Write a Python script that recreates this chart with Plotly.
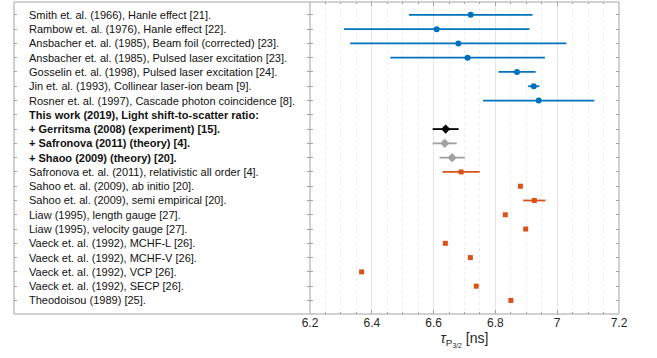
import plotly.graph_objects as go

labels = [
    "Smith et. al. (1966), Hanle effect [21].",
    "Rambow et. al. (1976), Hanle effect [22].",
    "Ansbacher et. al. (1985), Beam foil (corrected) [23].",
    "Ansbacher et. al. (1985), Pulsed laser excitation [23].",
    "Gosselin et. al. (1998), Pulsed laser excitation [24].",
    "Jin et. al. (1993), Collinear laser-ion beam [9].",
    "Rosner et. al. (1997), Cascade photon coincidence [8].",
    "This work (2019), Light shift-to-scatter ratio:",
    "+ Gerritsma (2008) (experiment) [15].",
    "+ Safronova (2011) (theory) [4].",
    "+ Shaoo (2009) (theory) [20].",
    "Safronova et. al. (2011), relativistic all order [4].",
    "Sahoo et. al. (2009), ab initio [20].",
    "Sahoo et. al. (2009), semi empirical [20].",
    "Liaw (1995), length gauge [27].",
    "Liaw (1995), velocity gauge [27].",
    "Vaeck et. al. (1992), MCHF-L [26].",
    "Vaeck et. al. (1992), MCHF-V [26].",
    "Vaeck et. al. (1992), VCP [26].",
    "Vaeck et. al. (1992), SECP [26].",
    "Theodoisou (1989) [25].",
]
bold_rows = [7, 8, 9, 10]

# experiments (blue)
exp_rows = [0, 1, 2, 3, 4, 5, 6]
exp_vals = [6.72, 6.61, 6.68, 6.71, 6.87, 6.924, 6.94]
exp_errs = [0.20, 0.30, 0.35, 0.25, 0.06, 0.018, 0.18]

# this work (black)
tw_rows = [8]
tw_vals = [6.639]
tw_errs = [0.042]

# this work with theory input (gray)
twt_rows = [9, 10]
twt_vals = [6.636, 6.66]
twt_errs = [0.039, 0.041]

# theory (orange)
th_rows = [11, 12, 13, 14, 15, 16, 17, 18, 19, 20]
th_vals = [6.689, 6.881, 6.926, 6.832, 6.898, 6.638, 6.719, 6.367, 6.738, 6.85]
th_errs = [0.06, 0, 0.036, 0, 0, 0, 0, 0, 0, 0]

x_ticks = [6.2, 6.4, 6.6, 6.8, 7.0, 7.2]
x_ticktext = ["6.2", "6.4", "6.6", "6.8", "7", "7.2"]

fig = go.Figure()

def add(rows, vals, errs, color, symbol, size):
    fig.add_trace(go.Scatter(
        x=vals, y=rows, mode="markers", xaxis="x", yaxis="y2",
        marker=dict(color=color, symbol=symbol, size=size),
        error_x=dict(type="data", array=errs, visible=True, color=color,
                     thickness=1.8, width=0),
        showlegend=False, hoverinfo="skip",
    ))

add(exp_rows, exp_vals, exp_errs, "#0072BD", "circle", 6)
add(tw_rows, tw_vals, tw_errs, "#000000", "diamond", 7)
add(twt_rows, twt_vals, twt_errs, "#A0A0A0", "diamond", 7)
add(th_rows, th_vals, th_errs, "#D95319", "square", 5)

split = 296 / 605
line_col = "#a3a3a3"

for i, lab in enumerate(labels):
    txt = f"<b>{lab}</b>" if i in bold_rows else lab
    fig.add_annotation(x=13 / 605, y=i, xref="paper", yref="y", text=txt,
                       showarrow=False, xanchor="left", yanchor="middle",
                       font=dict(family="Liberation Sans, Arial", size=11, color="#111111"))

# panel frames
fig.add_shape(type="rect", xref="paper", yref="paper", x0=0, x1=1, y0=0, y1=1,
              line=dict(color=line_col, width=1), layer="above")
fig.add_shape(type="line", xref="paper", yref="paper", x0=split, x1=split, y0=0, y1=1,
              line=dict(color=line_col, width=1), layer="above")

yr = [20.95, -0.9]
fig.update_layout(
    width=657, height=358,
    margin=dict(l=14, r=38, t=2, b=44),
    plot_bgcolor="white", paper_bgcolor="white",
    showlegend=False,
    font=dict(family="Liberation Sans, Arial", size=12, color="#262626"),
    xaxis=dict(domain=[split, 1], range=[6.2, 7.2], tickvals=x_ticks, ticktext=x_ticktext,
               ticks="inside", ticklen=4, tickcolor=line_col, showline=False,
               mirror="ticks", showgrid=True, gridcolor="#e6e6e6", zeroline=False,
               tickfont=dict(size=12, color="#262626"),
               minor=dict(dtick=0.05, showgrid=True, gridcolor="#ececec", griddash="dot",
                          ticks="inside", ticklen=2, tickcolor=line_col),
               title=dict(text="<i>τ</i><sub>P<sub>3/2</sub></sub> [ns]", standoff=2,
                          font=dict(size=14, color="#262626"))),
    xaxis2=dict(domain=[0, split], range=[0, 1], showticklabels=False, showgrid=False,
                zeroline=False, showline=False, ticks=""),
    yaxis=dict(anchor="x2", range=yr, tickvals=list(range(len(labels))), showticklabels=False,
               ticks="inside", ticklen=3, tickcolor=line_col, showline=False,
               mirror="ticks", showgrid=False, zeroline=False),
    yaxis2=dict(anchor="x", range=yr, matches="y", tickvals=list(range(len(labels))),
                showticklabels=False, ticks="inside", ticklen=3, tickcolor=line_col,
                showline=False, mirror="ticks", showgrid=False, zeroline=False),
)
fig.add_trace(go.Scatter(x=[None], y=[None], xaxis="x2", yaxis="y", showlegend=False))

fig.write_html("out.html", config={"displayModeBar": False},
               post_script="document.body.style.margin='0';")
